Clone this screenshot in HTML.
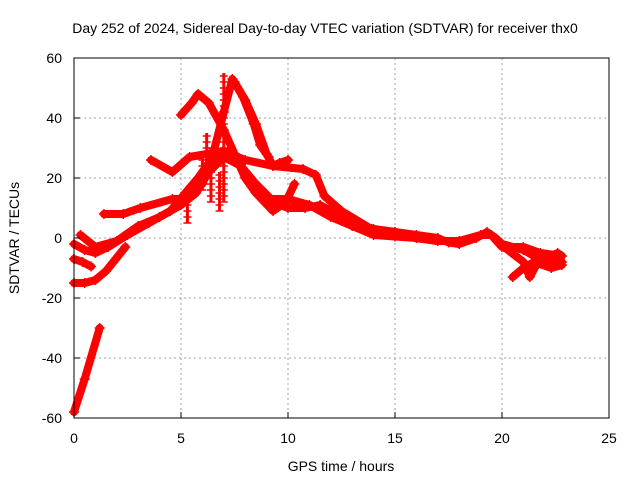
<!DOCTYPE html>
<html><head><meta charset="utf-8"><style>
body{margin:0;background:#fff}
svg{display:block;font-family:"Liberation Sans",sans-serif}
</style></head><body>
<svg id="c" width="640" height="480" xmlns="http://www.w3.org/2000/svg">
<text x="325" y="33" text-anchor="middle" font-size="14">Day 252 of 2024, Sidereal Day-to-day VTEC variation (SDTVAR) for receiver thx0</text>
<text x="341" y="471" text-anchor="middle" font-size="14">GPS time / hours</text>
<text transform="translate(19,238) rotate(-90)" text-anchor="middle" font-size="14">SDTVAR / TECUs</text>
<g id="grid"></g><g id="marks"></g><g id="axes"></g>
</svg>
<script>
const xTicks=[0,5,10,15,20,25];
const yTicks=[-60,-40,-20,0,20,40,60];
const trackSteep=[[0,-58],[0.5,-47],[1.2,-30]];
const trackLow=[[0,-15],[0.5,-15],[1,-14],[1.5,-11],[2.4,-3]];
const trackShort=[[0,-7],[0.4,-8],[0.8,-9.5]];
const trackA=[[0,-2],[0.5,-4],[1,-5],[1.6,-3],[2.5,1],[3.5,5],[4.5,9],[5.2,15],[5.8,20],[6.3,25],[7,29],[7.5,27],[8,22],[8.6,16],[9.3,12],[10,10],[10.8,10],[11.5,11],[12,9],[13,5],[14,3],[15,2],[16,1],[17,0],[17.5,-1.5],[18,-2],[18.8,0],[19.3,2],[19.7,0],[20,-2],[21,-4],[21.5,-6],[22.2,-8],[22.8,-8]];
const trackA2=[[0.3,1],[1,-3],[2,-1],[3,4],[4,7],[5,11],[5.7,15],[6.3,22],[7,27],[7.8,24],[8.5,18],[9.2,13],[10,13],[11,11],[12,7],[13,4],[14,2],[15,1],[16,0],[17,-1],[18,-1],[19,1],[19.5,1],[20,-3],[21,-3],[21.8,-5],[22.8,-6]];
const trackB=[[5,41],[5.5,45],[5.8,48],[6.3,45],[7,36],[7.5,28],[8,20],[8.5,15],[9.3,9],[9.9,12],[10.3,18]];
const trackC=[[6,18],[6.5,28],[7,42],[7.4,53],[7.9,47],[8.4,38],[8.7,31],[9.1,27]];
const trackC2=[[7.5,52],[8,46],[8.5,38],[9,28],[9.3,24],[9.6,25],[10,26]];
const trackD=[[3.6,26],[4.6,22],[5.4,27],[6.2,28],[7,29],[8,26],[9.3,24],[10.7,23],[11.3,21],[11.7,14],[12.5,9],[13.9,3],[15,2]];
const trackE=[[1.4,8],[2.3,8],[3.1,10],[4.6,13],[5.1,13],[5.8,17],[6.5,24],[7,29]];
const trackF=[[20.1,-3],[21,-8],[21.3,-13],[21.6,-9],[22,-7],[22.6,-5]];
const trackG=[[20.5,-13],[21,-10],[21.5,-8],[22.3,-10],[22.8,-9]];
const trackH=[[12,8],[13,4],[14,1],[15,0.5],[16,0],[17,-1],[18,-1]];
const sticks=[[5.3,5,13],[6.0,16,29],[6.4,12,30],[6.8,9,22],[7.0,12,55],[6.2,20,35]];
const tracks=[trackSteep,trackLow,trackShort,trackA,trackA2,trackB,trackC,trackC2,trackD,trackE,trackF,trackG,trackH];
const X0=74,X1=609,Y0=418,Y1=58;
const sx=v=>X0+(v-0)/(25-0)*(X1-X0);
const sy=v=>Y0-(v+60)/120*(Y0-Y1);
const NS='http://www.w3.org/2000/svg';
const g=document.getElementById('grid'),m=document.getElementById('marks'),a=document.getElementById('axes');
function mk(t,at,p){const e=document.createElementNS(NS,t);for(const k in at)e.setAttribute(k,at[k]);p.appendChild(e);return e;}
xTicks.forEach(t=>{
 if(t>0&&t<25){const l=mk('line',{x1:sx(t),x2:sx(t),y1:Y1,y2:Y0,stroke:'#a0a0a0','stroke-dasharray':'2,3'},g);
 
 }
 const tk=mk('line',{x1:sx(t),x2:sx(t),y1:Y0,y2:Y0-6,stroke:'#000'},a);
 
 
 const tx=mk('text',{x:sx(t),y:443,'text-anchor':'middle','font-size':14},a);tx.textContent=t;
 
 
});
yTicks.forEach(t=>{
 if(t>-60&&t<60){const l=mk('line',{x1:X0,x2:X1,y1:sy(t),y2:sy(t),stroke:'#a0a0a0','stroke-dasharray':'2,3'},g);
 
 }
 const tk=mk('line',{x1:X0,x2:X0+6,y1:sy(t),y2:sy(t),stroke:'#000'},a);
 
 
 const tx=mk('text',{x:62,y:sy(t)+5,'text-anchor':'end','font-size':14},a);tx.textContent=t;
 
 
});
const fr=mk('rect',{x:X0,y:Y1,width:X1-X0,height:Y0-Y1,fill:'none',stroke:'#000'},a);


tracks.forEach(tr=>{
 const p=mk('polyline',{points:tr.map(d=>sx(d[0])+','+sy(d[1])).join(' '),fill:'none',stroke:'#f00','stroke-width':8,'stroke-linejoin':'round','stroke-linecap':'round'},m);
 
 
 tr.forEach(d=>{const c=mk('path',{d:`M${sx(d[0])-5},${sy(d[1])}h10M${sx(d[0])},${sy(d[1])-5}v10`,stroke:'#f00','stroke-width':1.5},m);
 
 });
});
sticks.forEach(s=>{
 const l=mk('line',{x1:sx(s[0]),x2:sx(s[0]),y1:sy(s[1]),y2:sy(s[2]),stroke:'#f00','stroke-width':3},m);
 
 
 for(let v=s[1];v<=s[2];v+=2){const c=mk('path',{d:`M${sx(s[0])-4},${sy(v)}h8`,stroke:'#f00','stroke-width':1.5},m);
 
 }
});
</script>
</body></html>
